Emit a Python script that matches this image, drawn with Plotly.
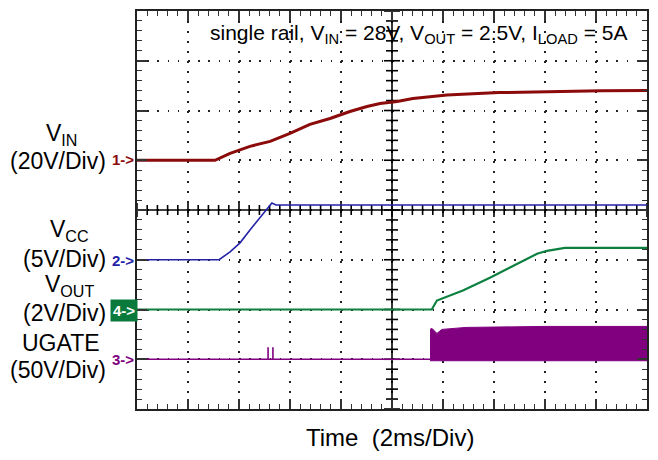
import numpy as np
import plotly.graph_objects as go

# ---------------- data (time in ms, values in volts) ----------------
vin_t = [0, 3.06, 3.65, 4.43, 5.22, 6.0, 6.78, 7.57, 8.35, 9.02, 9.53, 10.2, 10.82, 12.15, 14.2, 16.2, 18.2, 20]
vin_v = [0, 0, 2.8, 5.6, 7.6, 10.8, 14.4, 16.8, 19.6, 21.6, 22.8, 23.6, 24.8, 26.2, 27.2, 27.6, 27.9, 28.0]

vcc_t = [0, 3.22, 3.65, 4.04, 4.43, 4.82, 5.14, 5.29, 5.45, 20]
vcc_v = [0, 0, 0.8, 1.7, 3.0, 4.2, 5.3, 5.7, 5.5, 5.5]

vout_t = [0, 11.56, 11.76, 12.78, 13.84, 14.75, 15.69, 16.08, 16.59, 16.78, 20]
vout_v = [0, 0, 0.36, 0.76, 1.28, 1.76, 2.24, 2.36, 2.44, 2.48, 2.48]

ugate_t = [0, 5.14, 5.14, 5.14, 5.33, 5.33, 5.33, 11.49]
ugate_v = [0, 0, 12, 0, 0, 12, 0, 0]
# switching envelope of UGATE after start-up
ugate_top_t = [11.49, 11.57, 11.76, 11.96, 12.9, 16.0, 20]
ugate_top_v = [30, 31, 26, 30, 32, 33, 33]
ugate_low_v = -1.5

# channel settings: name, scale text, volts/div, offset (div), colour, marker
ch_vin = ("V<sub>IN</sub>", "(20V/Div)", 20, 1, "#8b0a0a", "1->")
ch_vcc = ("V<sub>CC</sub>", "(5V/Div)", 5, -1, "#2323a8", "2->")
ch_vout = ("V<sub>OUT</sub>", "(2V/Div)", 2, -2, "#0d8040", "4->")
ch_ug = ("UGATE", "(50V/Div)", 50, -3, "#800080", "3->")

title_text = "single rail, V<sub>IN</sub> = 28V, V<sub>OUT</sub> = 2.5V, I<sub>LOAD</sub> = 5A"
xlabel_text = "Time\u00a0\u00a0(2ms/Div)"

# ---------------- geometry helpers ----------------
OFF = 8  # page body margin
W, H = 658 - OFF, 460 - OFF
L, R, T, B = 137 - OFF, 647 - OFF, 9 - OFF, 409 - OFF
FONT = "Liberation Sans, Arial, Helvetica, sans-serif"
MS_PER_PX = 20.0 / (R - L)
DIV_PER_PX = 8.0 / (B - T)


def px(x):
    return (x - OFF - L) / (R - L)


def py(y):
    return (B - (y - OFF)) / (B - T)


fig = go.Figure()


def yr(ch):
    s, off = ch[2], ch[3]
    return [(-4 - off) * s, (4 - off) * s]


# UGATE
fig.add_trace(go.Scatter(x=ugate_t, y=ugate_v, mode="lines", yaxis="y5", showlegend=False,
                         line=dict(color=ch_ug[4], width=1.6)))
band_x = ugate_top_t + [ugate_top_t[-1], ugate_top_t[0]]
band_y = ugate_top_v + [ugate_low_v, ugate_low_v]
fig.add_trace(go.Scatter(x=band_x, y=band_y, mode="lines", yaxis="y5", showlegend=False,
                         fill="toself", fillcolor=ch_ug[4], line=dict(color=ch_ug[4], width=1)))
# VOUT
fig.add_trace(go.Scatter(x=vout_t, y=vout_v, mode="lines", yaxis="y4", showlegend=False,
                         line=dict(color=ch_vout[4], width=2.2)))
# VCC
fig.add_trace(go.Scatter(x=vcc_t, y=vcc_v, mode="lines", yaxis="y3", showlegend=False,
                         line=dict(color=ch_vcc[4], width=1.6)))
# VIN
fig.add_trace(go.Scatter(x=vin_t, y=vin_v, mode="lines", yaxis="y2", showlegend=False,
                         line=dict(color=ch_vin[4], width=3)))

# centre cross graticule (line + ticks), drawn last on the shared axes
tx, ty = [0, 20, None, 10, 10, None], [0, 0, None, -4, 4, None]
for i, t in enumerate(np.arange(0, 20.001, 0.4)):
    h = (7 if i % 5 == 0 else 5) * DIV_PER_PX
    tx += [t, t, None]
    ty += [-h, h, None]
for i, v in enumerate(np.arange(-4, 4.001, 0.2)):
    h = (8 if i % 5 == 0 else 6) * MS_PER_PX
    tx += [10 - h, 10 + h, None]
    ty += [v, v, None]
fig.add_trace(go.Scatter(x=tx, y=ty, mode="lines", xaxis="x", yaxis="y", hoverinfo="skip",
                         showlegend=False, connectgaps=False, line=dict(color="#000000", width=1.6)))

axstyle = dict(showticklabels=False, ticks="inside", ticklen=10, tickwidth=1.5, tickcolor="#333",
               showline=True, linecolor="#222", linewidth=2, mirror="ticks", zeroline=False,
               showgrid=True, gridcolor="#222", gridwidth=1.6, fixedrange=True)

fig.update_layout(
    width=W, height=H,
    margin=dict(l=L, r=W - R, t=T, b=H - B, pad=0),
    paper_bgcolor="white", plot_bgcolor="white",
    xaxis=dict(range=[0, 20], dtick=2, tick0=0, griddash="1.6px,8.4px",
               minor=dict(dtick=0.4, ticks="inside", ticklen=5, tickcolor="#333", tickwidth=1.2, showgrid=False),
               **axstyle),
    yaxis=dict(range=[-4, 4], dtick=1, tick0=0, griddash="1.6px,8.6px",
               minor=dict(dtick=0.2, ticks="inside", ticklen=5, tickcolor="#333", tickwidth=1.2, showgrid=False),
               **axstyle),
    yaxis2=dict(range=yr(ch_vin), overlaying="y", visible=False, fixedrange=True),
    yaxis3=dict(range=yr(ch_vcc), overlaying="y", visible=False, fixedrange=True),
    yaxis4=dict(range=yr(ch_vout), overlaying="y", visible=False, fixedrange=True),
    yaxis5=dict(range=yr(ch_ug), overlaying="y", visible=False, fixedrange=True),
)

ann = []
ann.append(dict(text=title_text, x=px(418), y=py(32), xref="paper", yref="paper", showarrow=False,
                xanchor="center", yanchor="middle", font=dict(family=FONT, size=21, color="black")))
ann.append(dict(text=xlabel_text, x=px(390), y=py(438), xref="paper", yref="paper", showarrow=False,
                xanchor="center", yanchor="middle", font=dict(family=FONT, size=24, color="black")))

labels = [
    (ch_vin, 61, 133, 160, 158),
    (ch_vcc, 69, 230, 258, 260),
    (ch_vout, 69, 285, 313, 310),
    (ch_ug, 61, 343, 370, 359),
]
for ch, cx, ny, sy, my_ in labels:
    ann.append(dict(text=ch[0], x=px(cx), y=py(ny), xref="paper", yref="paper", showarrow=False,
                    xanchor="center", yanchor="middle", font=dict(family=FONT, size=23, color="black")))
    ann.append(dict(text=ch[1], x=px(108), y=py(sy), xref="paper", yref="paper", showarrow=False,
                    xanchor="right", yanchor="middle", font=dict(family=FONT, size=23, color="black")))
    if ch is ch_vout:
        ann.append(dict(text="<b>" + ch[5] + "</b>", x=px(124), y=py(my_), xref="paper", yref="paper",
                        showarrow=False, xanchor="center", yanchor="middle", bgcolor="#0a7a3c",
                        borderpad=2, font=dict(family=FONT, size=15, color="white")))
    else:
        ann.append(dict(text="<b>" + ch[5] + "</b>", x=px(110), y=py(my_), xref="paper", yref="paper",
                        showarrow=False, xanchor="left", yanchor="middle",
                        font=dict(family=FONT, size=15, color=ch[4])))

fig.update_layout(annotations=ann)
fig.write_html("out.html")
